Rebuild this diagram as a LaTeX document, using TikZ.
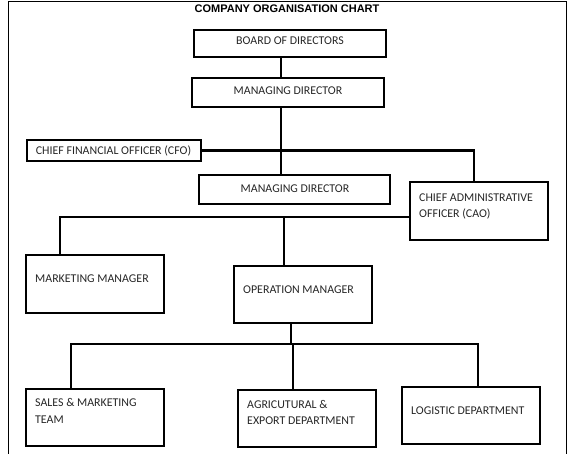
\documentclass[tikz,border=0pt]{standalone}
\usepackage{fontspec}
\setmainfont{Carlito}
\newfontfamily\titlefont{Liberation Sans}
\begin{document}
\begin{tikzpicture}[x=1pt,y=-1pt,
  box/.style={draw=black,line width=1.8pt,rectangle,inner sep=0pt},
  lbl/.style={font=\fontsize{11.9}{13}\selectfont,text=black!85,inner sep=0pt},
  link/.style={line width=2.8pt,line cap=rect}]
\useasboundingbox (0,0) rectangle (574,454);
\draw[line width=1pt] (8,454) -- (8,2) -- (566,2) -- (566,454);
\node[font=\titlefont\bfseries\fontsize{11}{12}\selectfont,inner sep=0pt] (title) at (287,8.5) {COMPANY ORGANISATION CHART};
% boxes
\node[box,minimum width=192pt,minimum height=27pt] (bod) at (290,43.5) {};
\node[box,minimum width=192pt,minimum height=29pt] (md1) at (288,92.5) {};
\node[box,minimum width=174pt,minimum height=21pt] (cfo) at (114,150.5) {};
\node[box,minimum width=191pt,minimum height=29pt] (md2) at (294.5,189.5) {};
\node[box,minimum width=138pt,minimum height=58pt] (cao) at (479,211) {};
\node[box,minimum width=138pt,minimum height=58pt] (mm) at (95,284) {};
\node[box,minimum width=138pt,minimum height=57pt] (om) at (303,294.5) {};
\node[box,minimum width=138pt,minimum height=57pt] (sm) at (95,417.5) {};
\node[box,minimum width=138pt,minimum height=57pt] (ag) at (307,418.5) {};
\node[box,minimum width=138pt,minimum height=57pt] (ld) at (471,415.5) {};
% texts
\node[lbl,anchor=base] (bodt) at (290,44.5) {BOARD OF DIRECTORS};
\node[lbl,anchor=base] (md1t) at (288,94.5) {MANAGING DIRECTOR};
\node[lbl,anchor=base] (cfot) at (113.5,154.5) {CHIEF FINANCIAL OFFICER (CFO)};
\node[lbl,anchor=base] (md2t) at (295,192.5) {MANAGING DIRECTOR};
\node[lbl,anchor=base west] (caot1) at (419,201.5) {CHIEF ADMINISTRATIVE};
\node[lbl,anchor=base west] (caot2) at (419,217.5) {OFFICER (CAO)};
\node[lbl,anchor=base west] (mmt) at (35,282.5) {MARKETING MANAGER};
\node[lbl,anchor=base west] (omt) at (243,293.5) {OPERATION MANAGER};
\node[lbl,anchor=base west] (smt1) at (35,406.5) {SALES \& MARKETING};
\node[lbl,anchor=base west] (smt2) at (35,423.5) {TEAM};
\node[lbl,anchor=base west] (agt1) at (247,408.5) {AGRICUTURAL \&};
\node[lbl,anchor=base west] (agt2) at (247,424.5) {EXPORT DEPARTMENT};
\node[lbl,anchor=base west] (ldt) at (411,414.5) {LOGISTIC DEPARTMENT};
% connectors
\coordinate (trunk) at (281,0);
\draw[link] (trunk |- bod.south) -- (trunk |- md1.north);
\draw[link] (trunk |- md1.south) -- (trunk |- md2.north);
\coordinate (caoT) at (474,0);
\draw[link] (cfo.east) -- (caoT |- cfo.east) -- (caoT |- cao.north);
\coordinate (bar2) at (0,217);
\coordinate (mmx) at (60,0);
\coordinate (omx) at (284,0);
\draw[link] (bar2 -| cao.west) -- (bar2 -| mmx) -- (mmx |- mm.north);
\draw[link] (omx |- bar2) -- (omx |- om.north);
\coordinate (bar3) at (0,344);
\coordinate (omb) at (291,0);
\coordinate (smx) at (71,0);
\coordinate (agx) at (293,0);
\coordinate (ldx) at (478,0);
\draw[link] (omb |- om.south) -- (omb |- bar3);
\draw[link] (smx |- sm.north) -- (smx |- bar3) -- (ldx |- bar3) -- (ldx |- ld.north);
\draw[link] (agx |- bar3) -- (agx |- ag.north);
\end{tikzpicture}
\end{document}
